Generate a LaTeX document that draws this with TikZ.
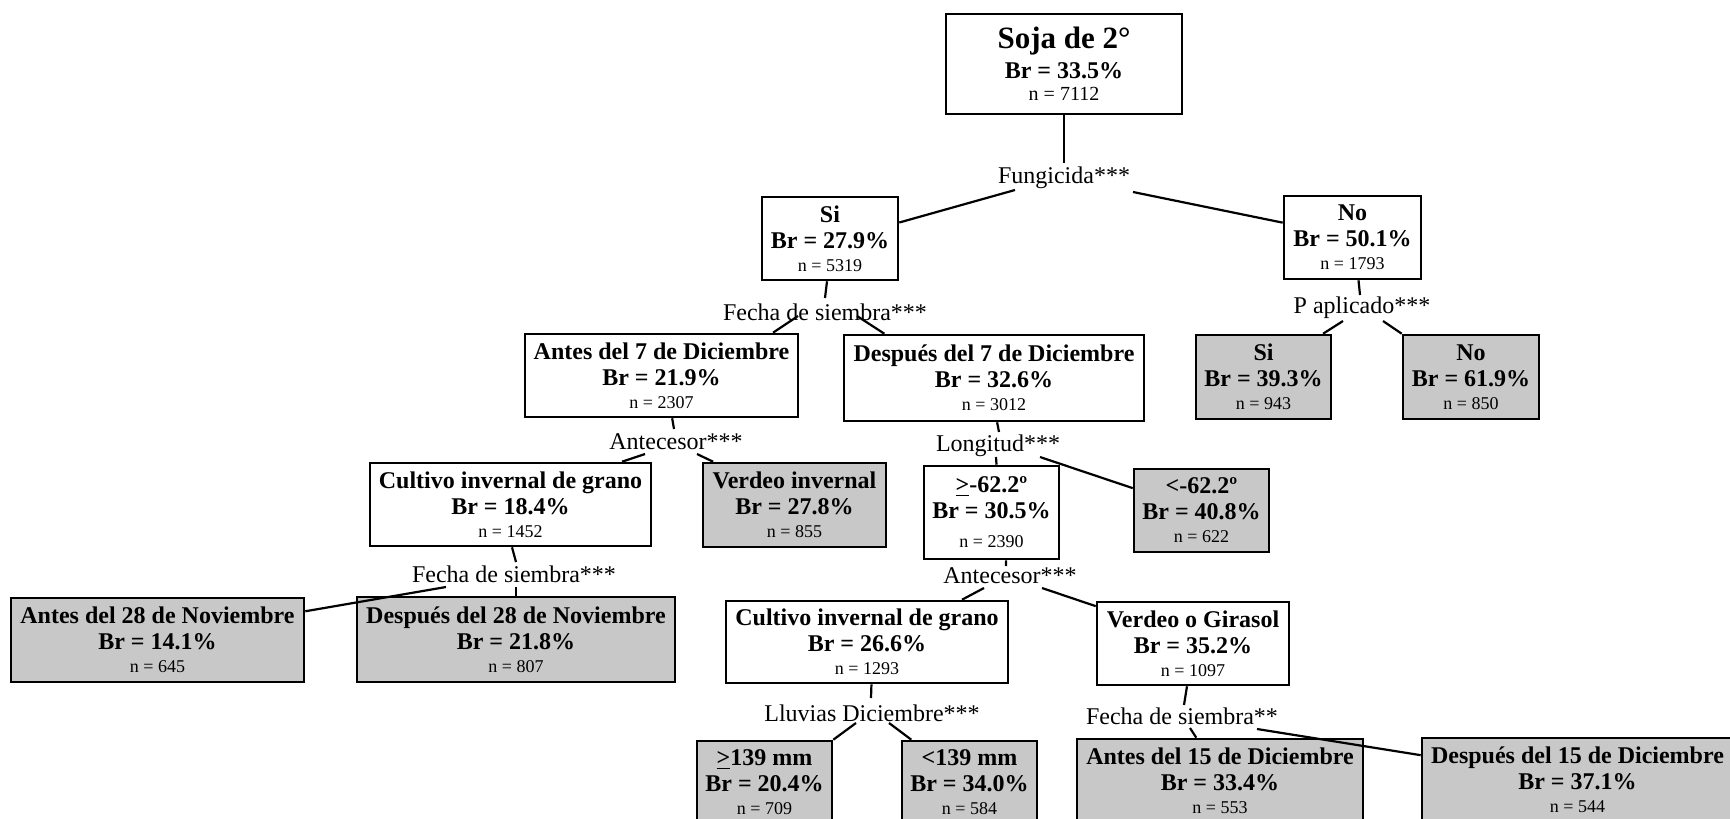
\documentclass[tikz,border=0pt]{standalone}
\usepackage{fontspec}
\setmainfont{Liberation Serif}
\definecolor{boxgray}{RGB}{200,200,200}
\tikzset{
  wbox/.style={draw=black, line width=1.3pt, fill=white, inner sep=0pt, align=center,
    font=\fontsize{12}{13}\selectfont\bfseries},
  gbox/.style={wbox, fill=boxgray},
  sz/.style 2 args={minimum width={#1*0.5pt}, minimum height={#2*0.5pt}},
  lab/.style={inner sep=0pt, anchor=base, font=\fontsize{12}{13}\selectfont},
  conn/.style={draw=black, line width=1.1pt},
}
\newcommand\nn[1]{\\[-1.5pt]{\mdseries\fontsize{9}{11}\selectfont #1}}
\begin{document}
\begin{tikzpicture}[x=0.5pt,y=-0.5pt]
\useasboundingbox (0,0) rectangle (1730,819);
% boxes
\node[wbox, sz={236}{100}] (root) at (1064,64) {{\fontsize{15.5}{17}\selectfont Soja de 2°}\\[2pt] Br = 33.5\%\\[-2pt]{\mdseries\fontsize{10}{11}\selectfont n = 7112}};
\node[wbox, sz={136}{83}] (si) at (830,238.5) {Si\\Br = 27.9\%\nn{n = 5319}};
\node[wbox, sz={137}{83}] (no) at (1352.5,237.5) {No\\Br = 50.1\%\nn{n = 1793}};
\node[wbox, sz={273}{83}] (antes7) at (661.5,375.5) {Antes del 7 de Diciembre\\Br = 21.9\%\nn{n = 2307}};
\node[wbox, sz={300}{86}] (desp7) at (994,378) {Después del 7 de Diciembre\\Br = 32.6\%\nn{n = 3012}};
\node[gbox, sz={135}{84}] (gsi) at (1263.5,377) {Si\\Br = 39.3\%\nn{n = 943}};
\node[gbox, sz={136}{84}] (gno) at (1471,377) {No\\Br = 61.9\%\nn{n = 850}};
\node[wbox, sz={281}{83}] (cult1) at (510.5,504.5) {Cultivo invernal de grano\\Br = 18.4\%\nn{n = 1452}};
\node[gbox, sz={183}{84}] (vinv) at (794.5,505) {Verdeo invernal\\Br = 27.8\%\nn{n = 855}};
\node[wbox, sz={135}{93}] (ge62) at (991.5,512.5) {\underline{>}-62.2º\\Br = 30.5\%\\[1.5pt]{\mdseries\fontsize{9}{11}\selectfont n = 2390}};
\node[gbox, sz={135}{83}] (lt62) at (1201.5,510.5) {<-62.2º\\Br = 40.8\%\nn{n = 622}};
\node[gbox, sz={293}{84}] (antes28) at (157.5,640) {Antes del 28 de Noviembre\\Br = 14.1\%\nn{n = 645}};
\node[gbox, sz={318}{85}] (desp28) at (516,639.5) {Después del 28 de Noviembre\\Br = 21.8\%\nn{n = 807}};
\node[wbox, sz={282}{82}] (cult2) at (867,642) {Cultivo invernal de grano\\Br = 26.6\%\nn{n = 1293}};
\node[wbox, sz={192}{83}] (vgir) at (1193,643.5) {Verdeo o Girasol\\Br = 35.2\%\nn{n = 1097}};
\node[gbox, sz={135}{82}] (ge139) at (764.5,782) {\underline{>}139 mm\\Br = 20.4\%\nn{n = 709}};
\node[gbox, sz={135}{82}] (lt139) at (969.5,782) {<139 mm\\Br = 34.0\%\nn{n = 584}};
\node[gbox, sz={286}{83}] (antes15) at (1220,780.5) {Antes del 15 de Diciembre\\Br = 33.4\%\nn{n = 553}};
\node[gbox, sz={311}{84}] (desp15) at (1577.5,780) {Después del 15 de Diciembre\\Br = 37.1\%\nn{n = 544}};
% split labels
\node[lab] (fung) at (1064,183) {Fungicida***};
\node[lab] (fecha1) at (825,320) {Fecha de siembra***};
\node[lab] (paplic) at (1362,313) {P aplicado***};
\node[lab] (ante1) at (676,449) {Antecesor***};
\node[lab] (longi) at (998,451) {Longitud***};
\node[lab] (fecha2) at (514,582) {Fecha de siembra***};
\node[lab] (ante2) at (1010,583) {Antecesor***};
\node[lab] (lluv) at (872,721) {Lluvias Diciembre***};
\node[lab] (fecha3) at (1182,724) {Fecha de siembra**};
% free ends of connectors next to the labels
\coordinate (f0) at (1064,163);
\coordinate (f1) at (1015,190);
\coordinate (f2) at (1133,192);
\coordinate (f3) at (825,298);
\coordinate (f4) at (798,316);
\coordinate (f5) at (857,316);
\coordinate (f6) at (1360,295);
\coordinate (f7) at (1343,321);
\coordinate (f8) at (1383,321);
\coordinate (f9) at (674,429);
\coordinate (f10) at (645,454);
\coordinate (f11) at (697,454);
\coordinate (f12) at (999,432);
\coordinate (f13) at (996,457);
\coordinate (f14) at (1040,457);
\coordinate (f15) at (516,562);
\coordinate (f16) at (446,587);
\coordinate (f17) at (516,587);
\coordinate (f18) at (1006,566);
\coordinate (f19) at (984,588);
\coordinate (f20) at (1042,588);
\coordinate (f21) at (871,698);
\coordinate (f22) at (856,723);
\coordinate (f23) at (889,723);
\coordinate (f24) at (1184,705);
\coordinate (f25) at (1190,728);
\coordinate (f26) at (1257,729);
% connectors
\draw[conn] (root.south) -- (f0);
\draw[conn] (f1) -- (si.13);
\draw[conn] (f2) -- (no.168);
\draw[conn] (si.-94) -- (f3);
\draw[conn] (f4) -- (antes7.21);
\draw[conn] (f5) -- (desp7.158);
\draw[conn] (no.-82) -- (f6);
\draw[conn] (f7) -- (gsi.36);
\draw[conn] (f8) -- (gno.north west);
\draw[conn] (antes7.-76) -- (f9);
\draw[conn] (f10) -- (cult1.21);
\draw[conn] (f11) -- (vinv.152);
\draw[conn] (desp7.-86) -- (f12);
\draw[conn] (f13) -- (ge62.84);
\draw[conn] (f14) -- (lt62.162);
\draw[conn] (cult1.-88) -- (f15);
\draw[conn] (f16) -- (antes28.11);
\draw[conn] (f17) -- (desp28.north);
\draw[conn] (ge62.-73) -- (f18);
\draw[conn] (f19) -- (cult2.24);
\draw[conn] (f20) -- (vgir.159);
\draw[conn] (cult2.-84) -- (f21);
\draw[conn] (f22) -- (ge139.north east);
\draw[conn] (f23) -- (lt139.144);
\draw[conn] (vgir.-98) -- (f24);
\draw[conn] (f25) -- (antes15.119);
\draw[conn] (f26) -- (desp15.171);
\end{tikzpicture}
\end{document}
